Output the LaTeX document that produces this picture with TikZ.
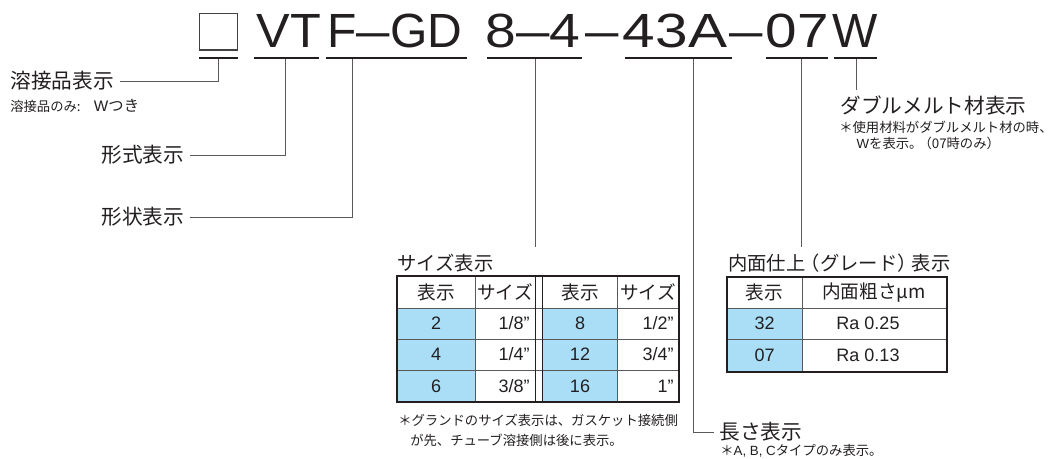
\documentclass[tikz,border=0pt]{standalone}
\usepackage{fontspec}
\setmainfont{Noto Sans CJK JP}
\newfontfamily\latf{Liberation Sans}
\definecolor{ink}{HTML}{231F20}
\definecolor{lead}{HTML}{5A5A5A}
\definecolor{cellblue}{RGB}{170,222,246}
\newcommand{\wide}[2][1.2]{\scalebox{#1}[1]{#2}}
\newcommand{\tdash}{\scalebox{1.25}[1]{–}}
\begin{document}
\begin{tikzpicture}[x=0.75pt,y=-0.75pt,
  ttl/.style={font=\latf\fontsize{36}{36}\selectfont, text=ink, inner sep=0pt, anchor=base},
  uline/.style={line width=2.2pt, draw=ink},
  leader/.style={line width=0.7pt, draw=lead},
  lbl/.style={font=\fontsize{15.5}{18}\selectfont, text=ink, anchor=west, inner sep=4pt},
  ttlbl/.style={font=\fontsize{14.5}{17}\selectfont, text=ink, anchor=west, inner sep=0pt},
  note/.style={font=\fontsize{10}{15}\selectfont, text=ink, anchor=west, inner sep=0pt, align=left},
  cellj/.style={font=\fontsize{14}{16}\selectfont, text=ink, inner sep=0pt},
  celll/.style={font=\latf\fontsize{13.5}{16}\selectfont, text=ink, inner sep=0pt},
  grid/.style={line width=0.6pt, draw=lead},
  frame/.style={line width=1.6pt, draw=ink}]
\useasboundingbox (0,0) rectangle (1052,459);

% model code
\draw[line width=1.3pt, draw=ink!85] (199.5,13.5) rectangle (237.5,50);
\node[ttl] (vt) at (289,48) {\wide[1.05]{VT}};
\node[ttl] (fgd) at (395,48) {F\tdash GD};
\node[ttl] (sz) at (533,48) {\wide[1.15]{8}\tdash\wide[1.15]{4}};
\node[ttl] (d1) at (602,48) {\tdash};
\node[ttl] (ln) at (675,48) {\wide[1.22]{43A}};
\node[ttl] (d2) at (746,48) {\tdash};
\node[ttl] (gr) at (797,48) {\wide[1.18]{07}};
\node[ttl] (dw) at (855,48) {W};
\foreach \a/\b in {199/238, 254/319, 326/467, 487/582, 625/732, 766/828, 834/877}
  \draw[uline] (\a,58) -- (\b,58);

\coordinate (c-box) at (218,59);
\coordinate (c-vt) at (285,59);
\coordinate (c-fgd) at (352,59);
\coordinate (c-sz) at (535,59);
\coordinate (c-len) at (693,59);
\coordinate (c-grd) at (801,59);
\coordinate (c-dm) at (856,59);
\coordinate (e-sz) at (535,247);
\coordinate (e-grd) at (801,247);

% labels
\node[lbl] (weld) at (5,81) {溶接品表示};
\node[note] (weldnote) at (10,106) {溶接品のみ:\hspace{1em}{\fontsize{11.5}{14}\selectfont{\latf W}つき}};
\node[lbl] (type) at (96,155) {形式表示};
\node[lbl] (shape) at (96,217) {形状表示};
\node[lbl] (dm) at (835,105) {ダブルメルト材表示};
\node[note, font=\fontsize{10}{12}\selectfont] (dmnote) at (839,135)
  {＊使用材料がダブルメルト材の時、\\\hspace*{1.3em}{\latf W}を表示。\kern-0.3em（07時のみ）};
\node[lbl] (len) at (714,432) {長さ表示};
\node[note] (lennote) at (720,451) {＊{\latf A, B, C}タイプのみ表示。};

\draw[leader] (c-box) |- (weld);
\draw[leader] (c-vt) |- (type);
\draw[leader] (c-fgd) |- (shape);
\draw[leader] (c-sz) -- (e-sz);
\draw[leader] (c-len) |- (len);
\draw[leader] (c-grd) -- (e-grd);
\draw[leader] (c-dm) -- (c-dm |- dm.north);

% size table
\node[ttlbl] (sizettl) at (397,263) {サイズ表示};
\fill[cellblue] (397,308) rectangle (475,402);
\fill[cellblue] (542,308) rectangle (617,402);
\foreach \y in {308,339,370}
  \draw[grid] (397,\y) -- (679,\y);
\foreach \x in {475,617}
  \draw[grid] (\x,276) -- (\x,402);
\draw[grid, draw=ink] (535,276) -- (535,402) (542,276) -- (542,402);
\draw[frame] (397,276) rectangle (679,402);
\node[cellj] (s-h1) at (436,292) {表示};
\node[cellj] (s-h2) at (505,292) {サイズ};
\node[cellj] (s-h3) at (580,292) {表示};
\node[cellj] (s-h4) at (648,292) {サイズ};
\foreach \k/\y/\a/\b/\c/\d in {1/323.5/2/{1/8”}/8/{1/2”}, 2/354.5/4/{1/4”}/12/{3/4”}, 3/386/6/{3/8”}/16/{1”}} {
  \node[celll] (s-\k-1) at (436,\y) {\a};
  \node[celll, anchor=east] (s-\k-2) at (530,\y) {\b};
  \node[celll] (s-\k-3) at (580,\y) {\c};
  \node[celll, anchor=east] (s-\k-4) at (674,\y) {\d};
}
\node[note] (sizenote) at (398,430)
  {＊グランドのサイズ表示は、ガスケット接続側\\\hspace*{0.9em}が先、チューブ溶接側は後に表示。};

% grade table
\node[ttlbl] (gradettl) at (728,263) {内面仕上\kern-0.25em（グレード）\kern-0.25em表示};
\fill[cellblue] (727,308) rectangle (802,372);
\draw[grid] (727,308) -- (947,308) (727,339) -- (947,339) (802,277) -- (802,372);
\draw[frame] (727,277) rectangle (947,372);
\node[cellj] (g-h1) at (764.5,292.5) {表示};
\node[cellj] (g-h2) at (874,292.5) {内面粗さ\textit{μ}m};
\node[celll] (g-1-1) at (764.5,323.5) {32};
\node[celll] (g-1-2) at (868,323.5) {Ra 0.25};
\node[celll] (g-2-1) at (764.5,355.5) {07};
\node[celll] (g-2-2) at (868,355.5) {Ra 0.13};
\end{tikzpicture}
\end{document}
